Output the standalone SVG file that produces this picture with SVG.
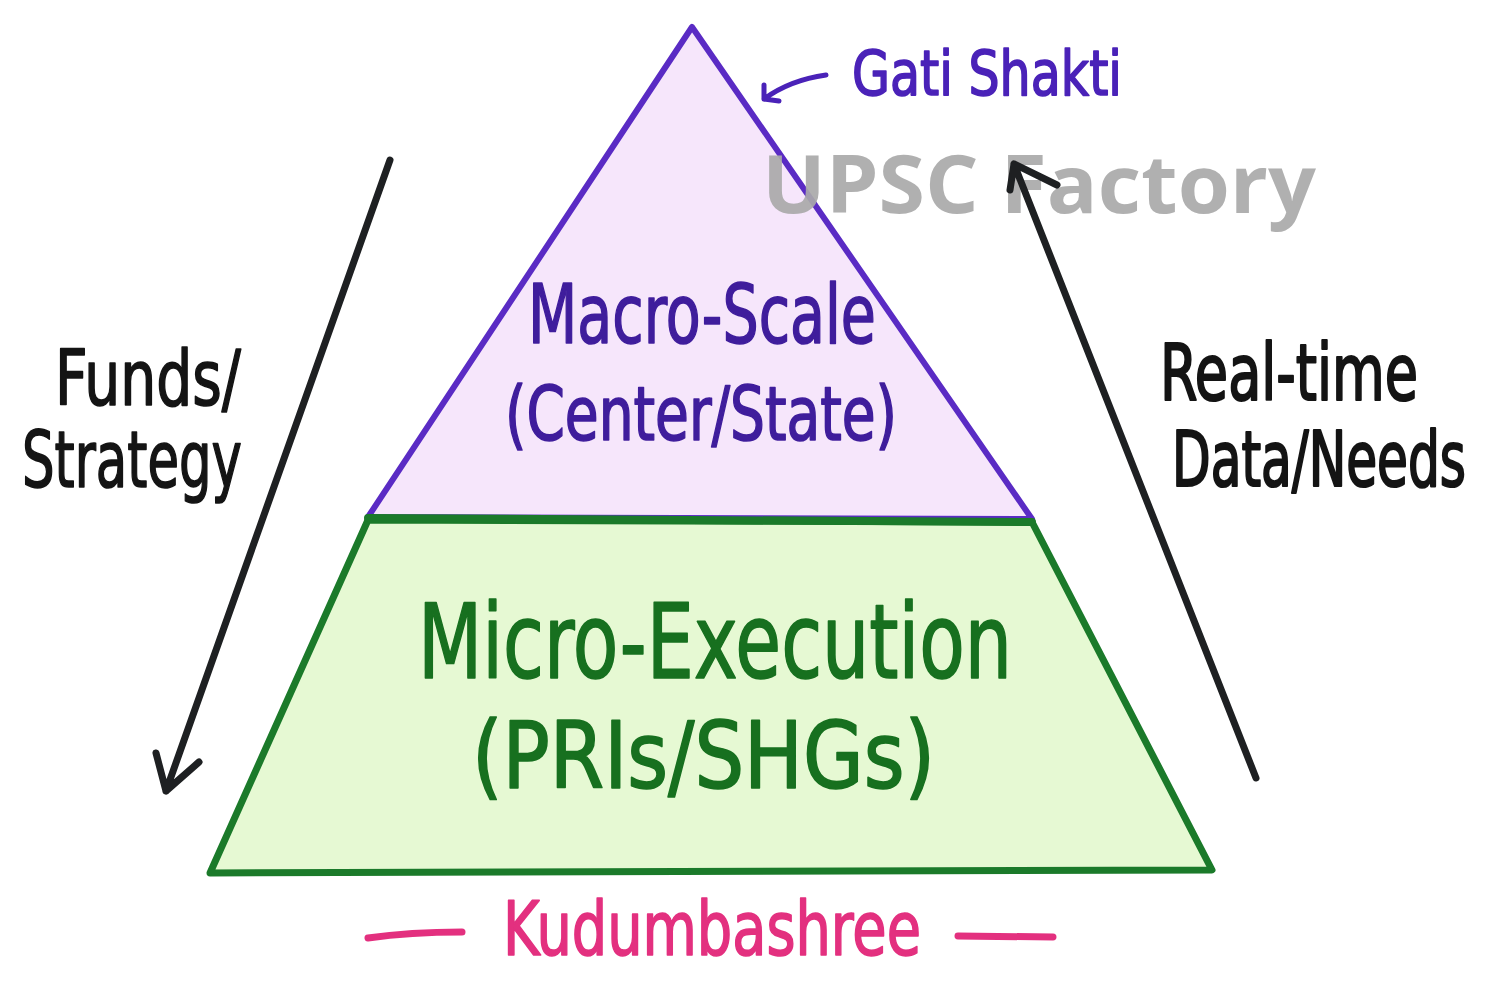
<svg xmlns="http://www.w3.org/2000/svg" width="1489" height="981" viewBox="0 0 1489 981">
<defs>
<style>
.hand{font-family:"DejaVu Sans Condensed","DejaVu Sans",sans-serif;stroke-width:1.6;stroke-linejoin:round;}
.purple{fill:#3f1d9c;stroke:#3f1d9c;}
.green{fill:#17701f;stroke:#17701f;}
.black{fill:#141414;stroke:#141414;}
.pink{fill:#e3307f;stroke:#e3307f;}
.arrow{fill:none;stroke:#1e2022;stroke-width:7;stroke-linecap:round;stroke-linejoin:round;}
</style>
</defs>
<rect width="1489" height="981" fill="#ffffff"/>
<g id="micro-execution">
<path d="M368,520 L1032,522 L1212,870 L210,873 Z" fill="#e6f9d3" stroke="#1b7a2a" stroke-width="7" stroke-linejoin="round"/>
<text class="hand green" x="418" y="678" font-size="104" textLength="594" lengthAdjust="spacingAndGlyphs">Micro-Execution</text>
<text class="hand green" x="472" y="788" font-size="92" textLength="463" lengthAdjust="spacingAndGlyphs">(PRIs/SHGs)</text>
</g>
<g id="macro-scale">
<path d="M692,27 L1032,519 L368,517 Z" fill="#f6e6fb" stroke="#5a2bc4" stroke-width="6" stroke-linejoin="round"/>
<line x1="368" y1="518" x2="1032" y2="522" stroke="#1b7a2a" stroke-width="8" stroke-linecap="round"/>
<text class="hand purple" x="528" y="343" font-size="82" textLength="348" lengthAdjust="spacingAndGlyphs">Macro-Scale</text>
<text class="hand purple" x="505" y="440" font-size="74" textLength="392" lengthAdjust="spacingAndGlyphs">(Center/State)</text>
</g>
<g id="gati-shakti">
<text class="hand" fill="#4a22b8" stroke="#4a22b8" x="852" y="95" font-size="62" textLength="270" lengthAdjust="spacingAndGlyphs">Gati Shakti</text>
<path d="M826,75 Q790,80 764,99 M764,99 L764,85 M764,99 L779,101" fill="none" stroke="#4a22b8" stroke-width="5" stroke-linecap="round" stroke-linejoin="round"/>
</g>
<g id="watermark">
<text x="762" y="213" font-family="Open Sans, DejaVu Sans, sans-serif" font-weight="bold" font-size="80" fill="#a9a9a9" fill-opacity="0.92" textLength="554" lengthAdjust="spacingAndGlyphs">UPSC Factory</text>
</g>
<g id="connectors">
<path class="arrow" d="M390,160 L166,791 M166,791 L156,753 M166,791 L199,762"/>
<path class="arrow" d="M1256,778 L1014,164 M1014,164 L1010,190 M1014,164 L1057,185"/>
</g>
<g id="funds-strategy">
<text class="hand black" x="55" y="405" font-size="76" textLength="186" lengthAdjust="spacingAndGlyphs">Funds/</text>
<text class="hand black" x="22" y="487" font-size="78" textLength="220" lengthAdjust="spacingAndGlyphs">Strategy</text>
</g>
<g id="realtime-data">
<text class="hand black" transform="translate(1160,400) scale(1,1.3)" x="0" y="0" font-size="60" textLength="258" lengthAdjust="spacingAndGlyphs">Real-time</text>
<text class="hand black" transform="translate(1172,486) scale(1,1.36)" x="0" y="0" font-size="56" textLength="294" lengthAdjust="spacingAndGlyphs">Data/Needs</text>
</g>
<g id="kudumbashree">
<path d="M368,938 Q410,932 462,932 M958,936 L1053,937" fill="none" stroke="#e3307f" stroke-width="7" stroke-linecap="round"/>
<text class="hand pink" x="503" y="955" font-size="74" textLength="418" lengthAdjust="spacingAndGlyphs">Kudumbashree</text>
</g>
</svg>
